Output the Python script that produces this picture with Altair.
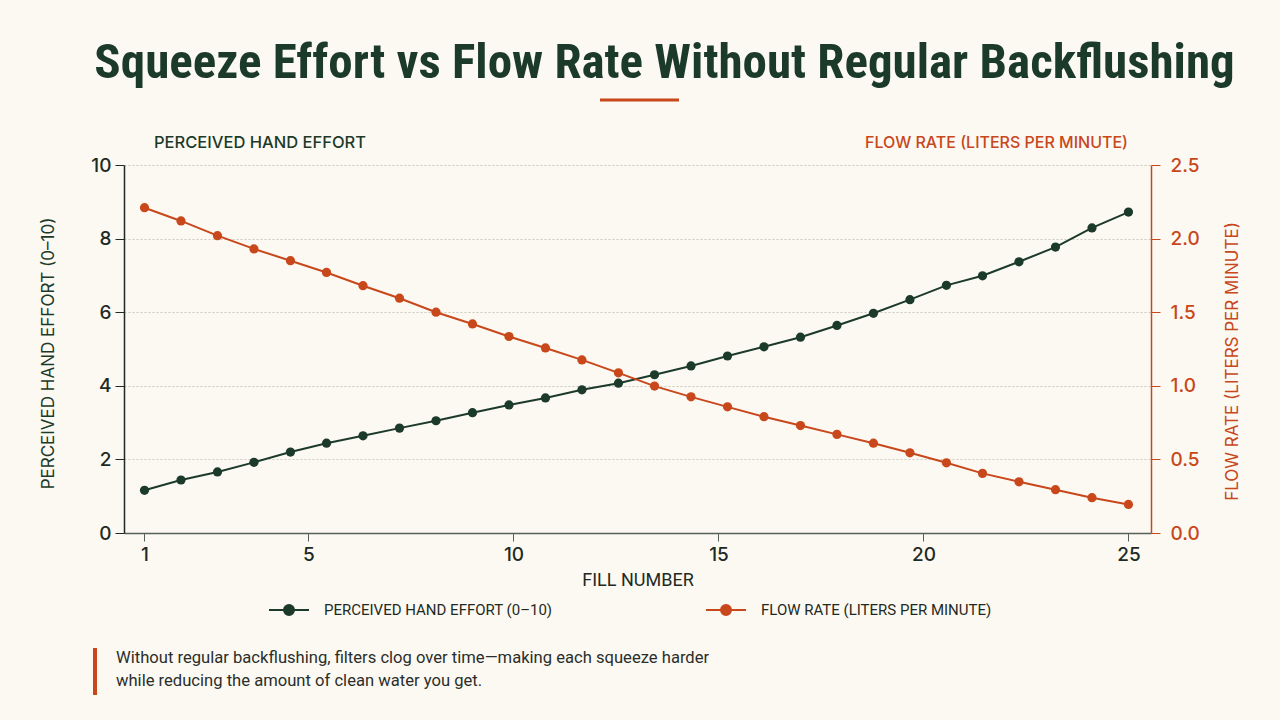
import altair as alt
import pandas as pd

# ---- data ----
fill_number = [1.0, 1.89, 2.78, 3.67, 4.56, 5.44, 6.33, 7.22, 8.11, 9.0,
               9.89, 10.78, 11.67, 12.56, 13.44, 14.33, 15.22, 16.11, 17.0, 17.89,
               18.78, 19.67, 20.56, 21.44, 22.33, 23.22, 24.11, 25.0]
hand_effort = [1.16, 1.44, 1.66, 1.92, 2.20, 2.44, 2.64, 2.85, 3.05, 3.27,
               3.48, 3.67, 3.89, 4.07, 4.30, 4.54, 4.81, 5.06, 5.32, 5.64,
               5.97, 6.34, 6.73, 6.99, 7.37, 7.77, 8.29, 8.72]
flow_rate = [2.21, 2.12, 2.02, 1.93, 1.85, 1.77, 1.68, 1.595, 1.50, 1.42,
             1.335, 1.257, 1.176, 1.088, 0.998, 0.925, 0.857, 0.79, 0.73, 0.67,
             0.61, 0.545, 0.477, 0.405, 0.348, 0.294, 0.24, 0.194]
x_ticks = [1, 5, 10, 15, 20, 25]
left_ticks = [0, 2, 4, 6, 8, 10]
right_ticks = [0, 0.5, 1.0, 1.5, 2.0, 2.5]

S_EFFORT = "PERCEIVED HAND EFFORT (0–10)"
S_FLOW = "FLOW RATE (LITERS PER MINUTE)"
TITLE = "Squeeze Effort vs Flow Rate Without Regular Backflushing"
NOTE = ("Without regular backflushing, filters clog over time—making each squeeze harder\n"
        "while reducing the amount of clean water you get.")

GREEN = "#1b3a29"
ORANGE = "#c8471b"
DARK = "#1f2a24"
BG = "#fcf9f2"
TITLE_FONT = "'Roboto Condensed', 'Noto Sans Condensed', 'DejaVu Sans Condensed', Roboto, sans-serif"

df = pd.DataFrame({"fill": fill_number, "effort": hand_effort, "flow": flow_rate})
one = pd.DataFrame({"k": [0]})

color = alt.Color(
    "series:N",
    scale=alt.Scale(domain=[S_EFFORT, S_FLOW], range=[GREEN, ORANGE]),
    legend=alt.Legend(
        title=None, orient="none", legendX=144, legendY=424, direction="horizontal",
        columns=2, columnPadding=149, labelLimit=500,
        symbolType="M-1,0L1,0M0.25,0A0.25,0.25,0,1,1,-0.25,0A0.25,0.25,0,1,1,0.25,0",
        symbolSize=1600, symbolStrokeWidth=2, labelOffset=14,
        labelFont="Roboto", labelFontSize=15, labelColor=DARK,
    ),
)

x = alt.X(
    "fill:Q",
    scale=alt.Scale(domain=[0.5, 25.55], nice=False, zero=False),
    axis=alt.Axis(
        values=x_ticks, title="FILL NUMBER", grid=False,
        domainColor="#56615a", tickColor="#56615a", tickSize=8, domainWidth=1.5,
        labelFont="Inter", labelFontSize=19, labelFontWeight=500, labelColor=DARK, labelPadding=4,
        titleFont="Roboto", titleFontSize=18, titleFontWeight="normal", titleColor=DARK,
        titleY=47, titleBaseline="middle",
    ),
)

base = alt.Chart(df)

effort_line = base.transform_calculate(series=f"'{S_EFFORT}'").mark_line(
    strokeWidth=2, point=alt.OverlayMarkDef(size=85, filled=True, opacity=1)
).encode(
    x=x,
    y=alt.Y(
        "effort:Q",
        scale=alt.Scale(domain=[0, 10], nice=False),
        axis=alt.Axis(
            values=left_ticks, orient="left", title=S_EFFORT,
            grid=True, gridColor="#cbc8bf", gridDash=[2, 2], gridWidth=1,
            domainColor=DARK, tickColor=DARK, tickSize=9, domainWidth=1.5,
            labelFont="Inter", labelFontSize=19, labelFontWeight=500, labelColor=DARK, labelPadding=4,
            titleFont="Inter", titleFontSize=17, titleFontWeight="normal", titleColor=GREEN,
            titleX=-76, titleY=188, titleAngle=270, titleAlign="center", titleBaseline="middle",
        ),
    ),
    color=color,
)

flow_line = base.transform_calculate(series=f"'{S_FLOW}'").mark_line(
    strokeWidth=2, point=alt.OverlayMarkDef(size=85, filled=True, opacity=1)
).encode(
    x=x,
    y=alt.Y(
        "flow:Q",
        scale=alt.Scale(domain=[0, 2.5], nice=False),
        axis=alt.Axis(
            values=right_ticks, orient="right", format=".1f", title=S_FLOW, grid=False,
            domainColor=ORANGE, tickColor=ORANGE, tickSize=9, domainWidth=1.5,
            labelFont="Inter", labelFontSize=19, labelFontWeight=500, labelColor=ORANGE, labelPadding=10,
            titleFont="Inter", titleFontSize=17, titleFontWeight="normal", titleColor=ORANGE,
            titleX=81, titleY=196, titleAngle=270, titleAlign="center", titleBaseline="middle",
        ),
    ),
    color=color,
)

hdr_left = alt.Chart(one).mark_text(
    align="left", baseline="middle", font="Inter", fontSize=16.5, fontWeight=500,
    color=GREEN, text="PERCEIVED HAND EFFORT",
).encode(x=alt.value(30), y=alt.value(-22))

hdr_right = alt.Chart(one).mark_text(
    align="right", baseline="middle", font="Inter", fontSize=16, fontWeight=500,
    color=ORANGE, text="FLOW RATE (LITERS PER MINUTE)",
).encode(x=alt.value(1004), y=alt.value(-22))

underline = alt.Chart(one).mark_rule(color=ORANGE, strokeWidth=3).encode(
    x=alt.value(476), x2=alt.value(555), y=alt.value(-65)
)

note_bar = alt.Chart(one).mark_rule(color=ORANGE, strokeWidth=4).encode(
    x=alt.value(-29), y=alt.value(483), y2=alt.value(530)
)

note = alt.Chart(one).mark_text(
    align="left", baseline="top", font="Roboto", fontSize=16.6, color="#2a2e2b",
    lineBreak="\n", lineHeight=23, text=NOTE,
).encode(x=alt.value(-8), y=alt.value(485))

chart = alt.layer(
    effort_line, flow_line, hdr_left, hdr_right, underline, note_bar, note
).resolve_scale(y="independent").properties(
    width=1027, height=368,
    autosize=alt.AutoSizeParams(type="none"),
    padding={"left": 124, "top": 165, "right": 129, "bottom": 187},
    background=BG,
    title=alt.TitleParams(
        TITLE, font=TITLE_FONT, fontSize=49, fontWeight="bold",
        color=GREEN, anchor="middle", frame="group", dx=27, offset=-28,
        baseline="alphabetic",
    ),
).configure_view(stroke=None)

chart.save("out.html", embed_options={"renderer": "svg", "actions": False})
